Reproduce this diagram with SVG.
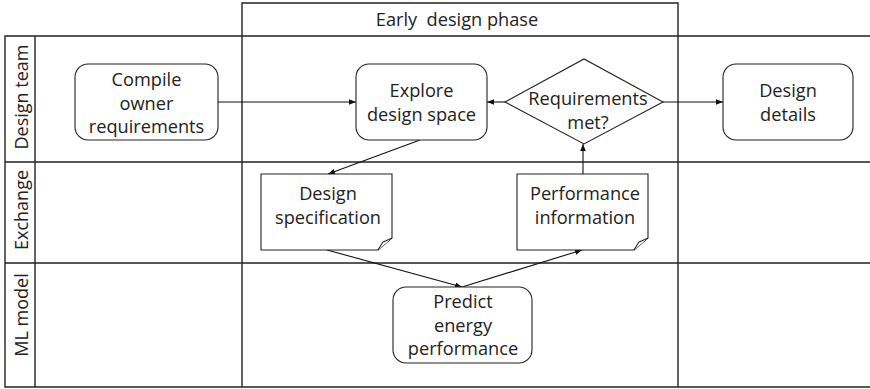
<svg xmlns="http://www.w3.org/2000/svg" width="870" height="389" viewBox="0 0 870 389">
  <style>
    .frame { fill: none; stroke: #222; stroke-width: 1.4; }
    .node { fill: #fff; stroke: #222; stroke-width: 1.1; }
    .label { font-family: "Open Sans", "Liberation Sans", sans-serif; font-size: 18.2px; fill: #222; text-anchor: middle; }
    .lane { font-family: "Open Sans", "Liberation Sans", sans-serif; font-size: 18px; fill: #222; text-anchor: middle; }
    .edge { fill: none; stroke: #111; stroke-width: 1.1; marker-end: url(#arrow); }
  </style>
  <defs>
    <marker id="arrow" viewBox="0 0 10 10" refX="10" refY="5" markerWidth="7" markerHeight="7" markerUnits="userSpaceOnUse" orient="auto">
      <path d="M0,1 L10,5 L0,9 Z" fill="#111"/>
    </marker>
  </defs>

  <rect width="870" height="389" fill="#fff"/>

  <!-- swimlane frame -->
  <g id="lanes">
    <path class="frame" d="M242,36 V3 H678 V36"/>
    <path class="frame" d="M870,36 H5 V387 H870"/>
    <path class="frame" d="M35,36 V387"/>
    <path class="frame" d="M5,162 H870 M5,263 H870"/>
    <path class="frame" d="M242,36 V387 M678,36 V387"/>
    <text class="label" x="457" y="26" style="white-space:pre">Early  design phase</text>
    <text class="lane" transform="translate(28,97) rotate(-90)">Design team</text>
    <text class="lane" transform="translate(28,210) rotate(-90)">Exchange</text>
    <text class="lane" transform="translate(28,315) rotate(-90)">ML model</text>
  </g>

  <!-- connectors -->
  <g id="connectors">
    <path class="edge" d="M218,102 H356"/>
    <path class="edge" d="M505,102 H487"/>
    <path class="edge" d="M663,102 H723"/>
    <path class="edge" d="M420,140 L328,174"/>
    <path class="edge" d="M327,250 L462,287"/>
    <path class="edge" d="M462,287 L582,250"/>
    <path class="edge" d="M583,174 V144"/>
  </g>

  <g id="compile">
    <rect class="node" x="75" y="64" width="143" height="76" rx="13"/>
    <text class="label" x="146.5" y="86">Compile</text>
    <text class="label" x="146.5" y="110">owner</text>
    <text class="label" x="146.5" y="133">requirements</text>
  </g>

  <g id="explore">
    <rect class="node" x="356" y="64" width="131" height="76" rx="13"/>
    <text class="label" x="421.5" y="97">Explore</text>
    <text class="label" x="421.5" y="121">design space</text>
  </g>

  <g id="requirements-met">
    <path class="node" d="M505,102 L584,59 L663,102 L584,144 Z"/>
    <text class="label" x="588" y="105">Requirements</text>
    <text class="label" x="588" y="129">met?</text>
  </g>

  <g id="design-details">
    <rect class="node" x="723" y="64" width="130" height="76" rx="13"/>
    <text class="label" x="788" y="97">Design</text>
    <text class="label" x="788" y="121">details</text>
  </g>

  <g id="design-specification">
    <path class="node" d="M261,174 H392 V238 L378,250 H261 Z"/>
    <path class="node" d="M378,250 Q381,245 383,242 Q388,240 392,238"/>
    <text class="label" x="328" y="200">Design</text>
    <text class="label" x="328" y="224">specification</text>
  </g>

  <g id="performance-information">
    <path class="node" d="M517,174 H648 V238 L634,250 H517 Z"/>
    <path class="node" d="M634,250 Q637,245 639,242 Q644,240 648,238"/>
    <text class="label" x="585" y="200">Performance</text>
    <text class="label" x="585" y="224">information</text>
  </g>

  <g id="predict">
    <rect class="node" x="393" y="287" width="139" height="76" rx="13"/>
    <text class="label" x="463" y="308">Predict</text>
    <text class="label" x="463" y="332">energy</text>
    <text class="label" x="463" y="355">performance</text>
  </g>
</svg>
